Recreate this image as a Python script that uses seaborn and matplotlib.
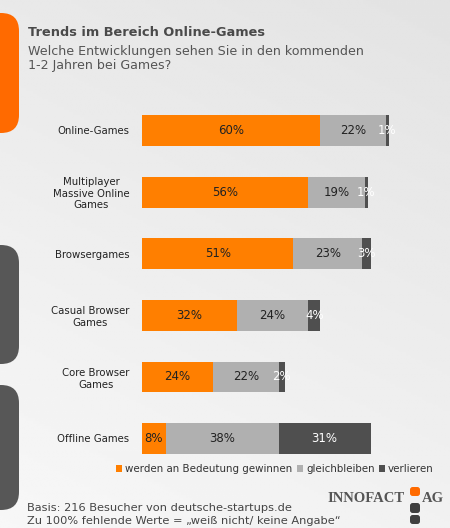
import numpy as np
import pandas as pd
import seaborn as sns
import matplotlib.pyplot as plt
from matplotlib.patches import FancyBboxPatch, Patch

categories = ["Online-Games", "Multiplayer\nMassive Online\nGames", "Browsergames",
              "Casual Browser\nGames", "Core Browser\nGames", "Offline Games"]
gewinnen = [60, 56, 51, 32, 24, 8]
gleich = [22, 19, 23, 24, 22, 38]
verlieren = [1, 1, 3, 4, 2, 31]
series_names = ["werden an Bedeutung gewinnen", "gleichbleiben", "verlieren"]
colors = ["#FF7F00", "#B0B0B0", "#4F4F4F"]
text_colors = ["#222222", "#222222", "white"]

df = pd.DataFrame({"cat": categories, "g": gewinnen, "s": gleich, "v": verlieren})
df["c1"] = df["g"]
df["c2"] = df["g"] + df["s"]
df["c3"] = df["c2"] + df["v"]

sns.set_style("white")
plt.rcParams['font.family'] = ['DejaVu Sans']

W, H = 450, 528
fig = plt.figure(figsize=(W / 100, H / 100), dpi=100)

# background gradient
bg = fig.add_axes([0, 0, 1, 1], zorder=-10)
gx = np.linspace(0, 1, 200)
gy = np.linspace(0, 1, 200)
X, Y = np.meshgrid(gx, gy)
grad = 0.89 + 0.08 * (Y * 0.7 + (1 - X) * 0.3)
bg.imshow(grad, cmap="gray", vmin=0, vmax=1, extent=[0, 1, 0, 1], aspect="auto", origin="upper")
bg.set_axis_off()


def box(x0, y0, w, h, col, r=0.04):
    p = FancyBboxPatch((x0 / W, 1 - (y0 + h) / H), w / W, h / H,
                       boxstyle=f"round,pad=0,rounding_size={r}", transform=fig.transFigure,
                       facecolor=col, edgecolor="none", mutation_aspect=W / H)
    fig.patches.append(p)


# decorative side shapes
box(-20, 13, 39, 120, "#FF6A00")
box(-20, 245, 39, 119, "#575757")
box(-20, 385, 39, 125, "#575757")

# main bars
ax = fig.add_axes([142 / W, 1 - 469.3 / H, 297 / W, 369.6 / H])
ax.set_facecolor("none")
for col, c in zip(["c3", "c2", "c1"], colors[::-1]):
    sns.barplot(data=df, x=col, y="cat", orient="h", color=c, width=0.5,
                saturation=1, linewidth=0, ax=ax)
ax.set_xlim(0, 100)
ax.set_xlabel("")
ax.set_ylabel("")
ax.set_xticks([])
for s in ax.spines.values():
    s.set_visible(False)
ax.tick_params(axis="y", length=0, pad=9)
for lab in ax.get_yticklabels():
    lab.set_fontsize(7.3)
    lab.set_multialignment("center")
    lab.set_color("#222222")

for i, row in df.iterrows():
    starts = [0, row["c1"], row["c2"]]
    vals = [row["g"], row["s"], row["v"]]
    for st, v, tc in zip(starts, vals, text_colors):
        ax.text(st + v / 2, i, f"{v}%", ha="center", va="center", fontsize=8.5, color=tc)

# titles
fig.text(28 / W, 1 - 33 / H, "Trends im Bereich Online-Games", fontsize=9.3,
         fontweight="bold", color="#4a4a4a", va="center")
fig.text(28 / W, 1 - 58.5 / H, "Welche Entwicklungen sehen Sie in den kommenden\n1-2 Jahren bei Games?",
         fontsize=9.1, color="#555555", va="center", linespacing=1.2)

# legend
handles = [Patch(facecolor=c, edgecolor="none") for c in colors]
fig.legend(handles, series_names, loc="center right", bbox_to_anchor=(443 / W, 1 - 469 / H),
           ncol=3, frameon=False, fontsize=7.4, handlelength=0.6, handleheight=0.6,
           handletextpad=0.3, columnspacing=0.4, labelcolor="#333333")

# footer
fig.text(27 / W, 1 - 508 / H, "Basis: 216 Besucher von deutsche-startups.de", fontsize=8.2,
         color="#444444", va="center")
fig.text(27 / W, 1 - 521 / H, "Zu 100% fehlende Werte = \u201eweiß nicht/ keine Angabe\u201c",
         fontsize=8.2, color="#444444", va="center")

# logo
fig.text(405 / W, 1 - 498 / H, "INNOFACT", fontsize=10.5, family="Liberation Serif",
         fontweight="bold", color="#555555", ha="right", va="center")
fig.text(422 / W, 1 - 498 / H, "AG", fontsize=10.5, family="Liberation Serif",
         fontweight="bold", color="#555555", ha="left", va="center")
box(410, 487, 10, 9, "#FF6A00", r=0.006)
box(410, 503, 10, 10, "#3f3f3f", r=0.006)
box(410, 515, 10, 9, "#3f3f3f", r=0.006)

fig.savefig("out.png", dpi=100)
